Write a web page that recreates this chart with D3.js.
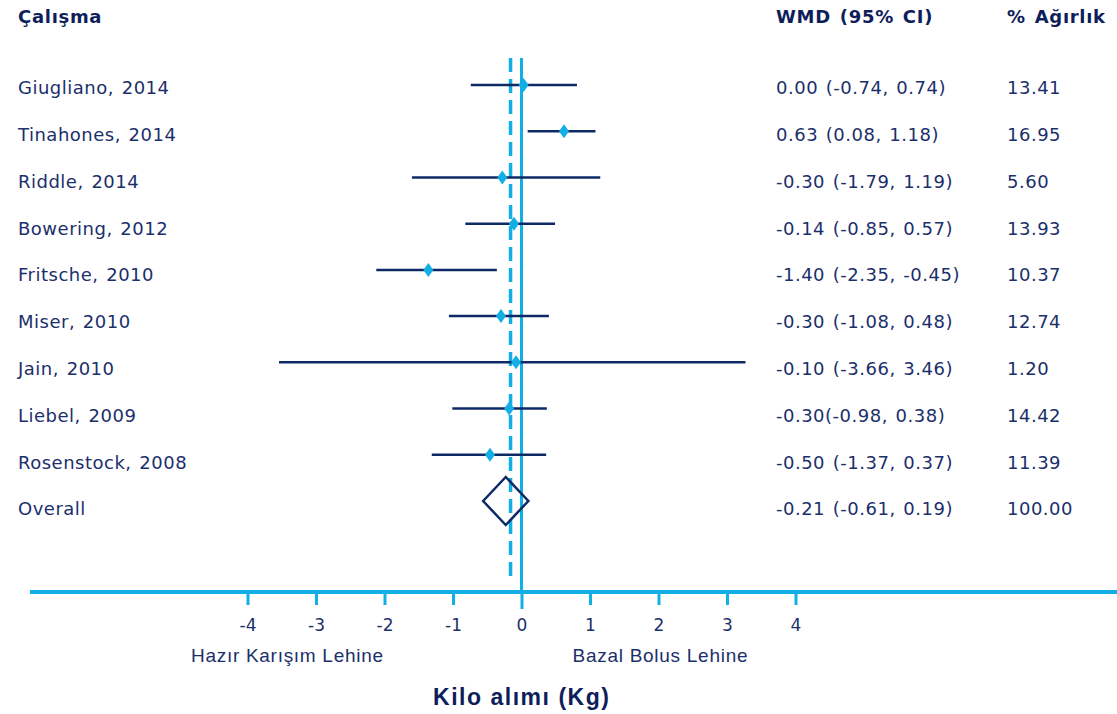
<!DOCTYPE html>
<html>
<head>
  <meta charset="utf-8">
  <title>Kilo alımı forest plot</title>
  <script src="https://d3js.org/d3.v7.min.js"></script>
  <style>
    body { margin: 0; background: #fff; }
    svg { display: block; }
    text { font-family: "DejaVu Sans", Verdana, sans-serif; fill: #1b2f6b; }
    .head { font-weight: bold; fill: #0e1e5b; font-size: 18px; letter-spacing: 0.7px; word-spacing: 2px; }
    .cell { font-size: 18px; letter-spacing: 0.5px; word-spacing: 1.5px; }
  </style>
</head>
<body>
  <svg width="1117" height="714"></svg>

  <script>
    // study rows (top to bottom)
    const studies = ["Giugliano, 2014", "Tinahones, 2014", "Riddle, 2014", "Bowering, 2012",
                     "Fritsche, 2010", "Miser, 2010", "Jain, 2010", "Liebel, 2009", "Rosenstock, 2008"];
    // positions as drawn in the figure
    const est  = [0.03, 0.62, -0.28, -0.11, -1.36, -0.30, -0.08, -0.18, -0.46];
    const low  = [-0.74, 0.09, -1.60, -0.82, -2.12, -1.06, -3.54, -1.01, -1.31];
    const high = [0.81, 1.08, 1.15, 0.49, -0.36, 0.40, 3.27, 0.37, 0.36];
    // printed columns
    const wmdText = ["0.00 (-0.74, 0.74)", "0.63 (0.08, 1.18)", "-0.30 (-1.79, 1.19)", "-0.14 (-0.85, 0.57)",
                     "-1.40 (-2.35, -0.45)", "-0.30 (-1.08, 0.48)", "-0.10 (-3.66, 3.46)", "-0.30(-0.98, 0.38)",
                     "-0.50 (-1.37, 0.37)", "-0.21 (-0.61, 0.19)"];
    const weightText = ["13.41", "16.95", "5.60", "13.93", "10.37", "12.74", "1.20", "14.42", "11.39", "100.00"];
    // overall estimate
    const overall = { name: "Overall", est: -0.23, low: -0.56, high: 0.10 };
    const dashedAt = -0.16;
    const ticks = [-4, -3, -2, -1, 0, 1, 2, 3, 4];

    const navy = "#0d2a66", cyan = "#12aee6";
    const svg = d3.select("svg");

    const x = d3.scaleLinear().domain([-4, 4]).range([247.5, 795.5]);
    const rows = studies.concat([overall.name]);
    const yMark = d3.scalePoint().domain(rows).range([85, 501]);
    const yText = d3.scalePoint().domain(rows).range([88, 509]);

    // headers
    svg.append("text").attr("class", "head").attr("x", 18).attr("y", 17).attr("dy", "0.35em").text("Çalışma");
    svg.append("text").attr("class", "head").attr("x", 776).attr("y", 17).attr("dy", "0.35em").text("WMD (95% CI)");
    svg.append("text").attr("class", "head").attr("x", 1007).attr("y", 17).attr("dy", "0.35em").text("% Ağırlık");

    // text columns
    const rowText = svg.append("g").selectAll("g").data(rows).join("g")
      .attr("transform", d => `translate(0,${yText(d)})`);
    rowText.append("text").attr("class", "cell").attr("x", 18).attr("dy", "0.35em").text(d => d);
    rowText.append("text").attr("class", "cell").attr("x", 776).attr("dy", "0.35em")
      .text((d, i) => wmdText[i]);
    rowText.append("text").attr("class", "cell").attr("x", 1007).attr("dy", "0.35em")
      .text((d, i) => weightText[i]);

    // reference lines
    svg.append("line").attr("x1", x(dashedAt)).attr("x2", x(dashedAt)).attr("y1", 58).attr("y2", 582)
      .attr("stroke", cyan).attr("stroke-width", 3.5).attr("stroke-dasharray", "14,7");
    svg.append("line").attr("x1", x(0)).attr("x2", x(0)).attr("y1", 58).attr("y2", 592)
      .attr("stroke", cyan).attr("stroke-width", 3);

    // confidence intervals
    const ci = svg.append("g");
    ci.selectAll("line").data(studies).join("line")
      .attr("x1", (d, i) => x(low[i])).attr("x2", (d, i) => x(high[i]))
      .attr("y1", d => yMark(d)).attr("y2", d => yMark(d))
      .attr("stroke", navy).attr("stroke-width", 2.5);
    ci.selectAll("path").data(studies).join("path")
      .attr("d", (d, i) => {
        const cx = x(est[i]), cy = yMark(d);
        return `M${cx - 5},${cy} L${cx},${cy - 7} L${cx + 5},${cy} L${cx},${cy + 7} Z`;
      })
      .attr("fill", cyan);

    // overall diamond
    const oy = yMark(overall.name);
    const oh = 24;
    svg.append("path")
      .attr("d", `M${x(overall.low)},${oy} L${x(overall.est)},${oy - oh} L${x(overall.high)},${oy} L${x(overall.est)},${oy + oh} Z`)
      .attr("fill", "none").attr("stroke", navy).attr("stroke-width", 2.5);

    // x axis
    svg.append("line").attr("x1", 30).attr("x2", 1117).attr("y1", 592).attr("y2", 592)
      .attr("stroke", cyan).attr("stroke-width", 4);
    const axis = svg.append("g").attr("transform", "translate(0,592)")
      .call(d3.axisBottom(x).tickValues(ticks).tickSize(13).tickFormat(d3.format("d")).tickPadding(14));
    axis.select(".domain").remove();
    axis.selectAll(".tick line").attr("stroke", cyan).attr("stroke-width", 3)
      .attr("y2", d => d === 0 ? 17 : 13);
    axis.selectAll(".tick text").attr("fill", "#1b2f6b")
      .style("font-family", "'DejaVu Sans', Verdana, sans-serif").style("font-size", "17px")
      .text(d => String(d));

    // direction labels
    svg.append("text").attr("x", 287).attr("y", 655).attr("dy", "0.35em").attr("text-anchor", "middle")
      .style("font-family", "'Liberation Sans Narrow', 'Liberation Sans', sans-serif").style("font-size", "19px")
      .attr("textLength", 192).text("Hazır Karışım Lehine");
    svg.append("text").attr("x", 660).attr("y", 655).attr("dy", "0.35em").attr("text-anchor", "middle")
      .style("font-family", "'Liberation Sans Narrow', 'Liberation Sans', sans-serif").style("font-size", "19px")
      .attr("textLength", 175).text("Bazal Bolus Lehine");

    // axis title
    svg.append("text").attr("x", 521).attr("y", 697).attr("dy", "0.35em").attr("text-anchor", "middle")
      .style("font-family", "'Liberation Sans Narrow', 'Liberation Sans', sans-serif").style("font-size", "23px")
      .style("font-weight", "bold").style("fill", "#0e1e5b")
      .attr("textLength", 176).text("Kilo alımı (Kg)");
  </script>
</body>
</html>
